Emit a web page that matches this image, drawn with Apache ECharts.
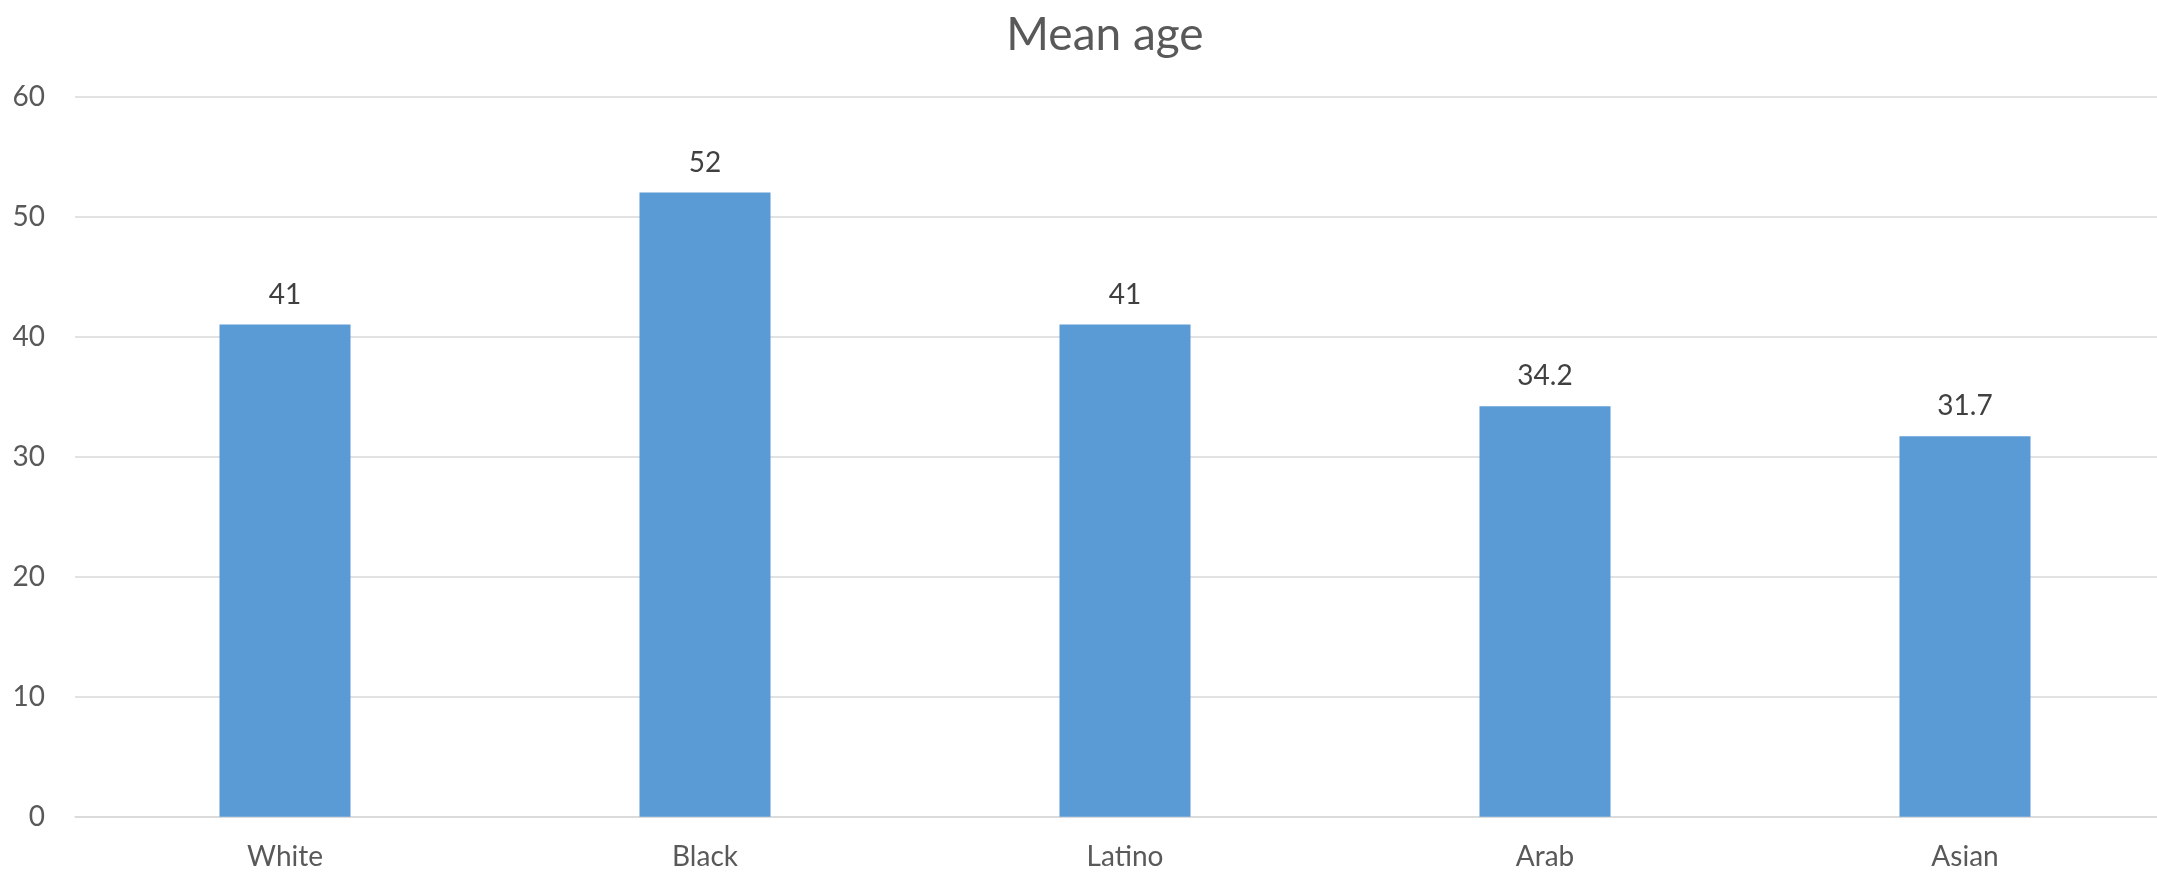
<!DOCTYPE html>
<html>
<head>
<meta charset="utf-8">
<script src="https://cdn.jsdelivr.net/npm/echarts@6/dist/echarts.min.js"></script>
<style>
html,body{margin:0;padding:0;background:#fff;}
#chart{width:2157px;height:872px;}
</style>
</head>
<body>
<div id="chart"></div>
<script>
const titleText = "Mean age";
const categories = ["White", "Black", "Latino", "Arab", "Asian"];
const meanAge = [41, 52, 41, 34.2, 31.7];
const yMin = 0, yMax = 60, yStep = 10;

const FONT = "Lato";
const chart = echarts.init(document.getElementById('chart'), null, {renderer: 'canvas'});
chart.setOption({
  backgroundColor: '#ffffff',
  animation: false,
  title: {
    text: titleText,
    left: 1100,
    textAlign: 'center',
    top: 7,
    textStyle: {fontFamily: FONT, fontSize: 46, fontWeight: 'normal', color: '#595959'}
  },
  grid: {left: 75, width: 2100, top: 96.5, bottom: 55.3, containLabel: false, outerBoundsMode: 'none'},
  xAxis: {
    type: 'category',
    data: categories,
    axisTick: {show: false},
    axisLine: {show: true, lineStyle: {color: '#d9d9d9', width: 1.5}},
    axisLabel: {fontFamily: FONT, fontSize: 28, color: '#595959', margin: 26}
  },
  yAxis: {
    type: 'value',
    min: yMin, max: yMax, interval: yStep,
    axisLine: {show: false},
    axisTick: {show: false},
    splitLine: {lineStyle: {color: '#d9d9d9', width: 1.5}},
    axisLabel: {fontFamily: FONT, fontSize: 28, color: '#595959', margin: 30}
  },
  series: [{
    type: 'bar',
    data: meanAge,
    barWidth: '31.2%',
    itemStyle: {color: '#5b9bd5'},
    label: {
      show: true, position: 'top', distance: 16,
      fontFamily: FONT, fontSize: 28, color: '#404040'
    }
  }]
});
</script>
</body>
</html>
